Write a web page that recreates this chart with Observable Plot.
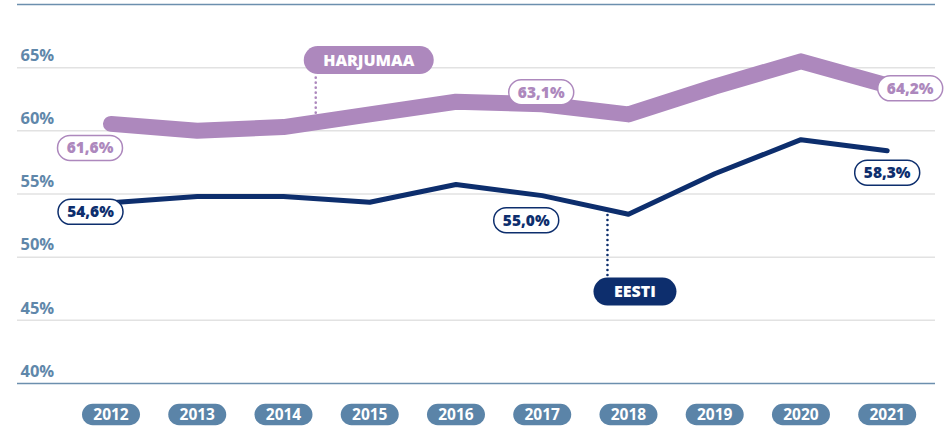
<!DOCTYPE html>
<html>
<head>
<meta charset="utf-8">
<script src="https://cdn.jsdelivr.net/npm/d3@7"></script>
<script src="https://cdn.jsdelivr.net/npm/@observablehq/plot@0.6"></script>
<style>
  html, body { margin: 0; padding: 0; background: #fff; }
  #chart svg { display: block; }
</style>
</head>
<body>
<div id="chart"></div>
<script>
// ---- data ----
const years = [2012, 2013, 2014, 2015, 2016, 2017, 2018, 2019, 2020, 2021];
const harjumaa = [60.55, 60.0, 60.3, 61.3, 62.3, 62.1, 61.3, 63.5, 65.5, 63.6];
const eesti = [54.3, 54.8, 54.8, 54.35, 55.75, 54.87, 53.4, 56.6, 59.3, 58.43];
const yTicks = [40, 45, 50, 55, 60, 65];
const seriesNames = ["HARJUMAA", "EESTI"];
const harjLabels = [
  { year: 2012, text: "61,6%" },
  { year: 2017, text: "63,1%" },
  { year: 2021, text: "64,2%" }
];
const eestiLabels = [
  { year: 2012, text: "54,6%" },
  { year: 2017, text: "55,0%" },
  { year: 2021, text: "58,3%" }
];

// ---- layout (pixel offsets of annotations, kept apart from data) ----
const harjOffsets = [[-21, 24], [-1, -12], [23, 3]];
const eestiOffsets = [[-20.5, 9], [-16, 24.5], [0, 22]];

const PURPLE = "#ad88bd";
const NAVY = "#0d2e6d";
const STEEL = "#5b84a8";
const FONT = "'Open Sans', 'Noto Sans', sans-serif";

const harjData = years.map((y, i) => ({ year: y, v: harjumaa[i] }));
const eestiData = years.map((y, i) => ({ year: y, v: eesti[i] }));

function pill(w, h) {
  const r = h / 2;
  return {
    draw(ctx) {
      ctx.moveTo(-w / 2 + r, -r);
      ctx.lineTo(w / 2 - r, -r);
      ctx.arc(w / 2 - r, 0, r, -Math.PI / 2, Math.PI / 2);
      ctx.lineTo(-w / 2 + r, r);
      ctx.arc(-w / 2 + r, 0, r, Math.PI / 2, 3 * Math.PI / 2);
      ctx.closePath();
    }
  };
}

function valueLabels(labels, data, offsets, color) {
  const marks = [];
  labels.forEach((l, i) => {
    const d = data.find(p => p.year === l.year);
    const [dx, dy] = offsets[i];
    const row = [{ year: l.year, v: d.v, text: l.text }];
    marks.push(Plot.dot(row, {
      x: "year", y: "v", dx, dy, symbol: pill(65, 25), r: 5,
      fill: "white", stroke: color, strokeWidth: 1.5
    }));
    marks.push(Plot.text(row, {
      x: "year", y: "v", dx, dy: dy + 0.5, text: "text",
      fill: color, fontSize: 15.5, fontWeight: 800, fontFamily: FONT,
      lineAnchor: "middle"
    }));
  });
  return marks;
}

const chart = Plot.plot({
  width: 948,
  height: 427,
  marginTop: 4,
  marginBottom: 44,
  marginLeft: 17,
  marginRight: 13,
  style: { background: "white", fontFamily: FONT, overflow: "visible" },
  x: { domain: [2012, 2021], range: [110.5, 886.7], axis: null },
  y: { domain: [40, 70], axis: null },
  marks: [
    Plot.ruleY(yTicks.filter(t => t !== 40), { stroke: "#e2e2e2", strokeWidth: 1.5 }),
    Plot.ruleY([40, 70], { stroke: "#6c8fae", strokeWidth: 1.5 }),
    Plot.text(yTicks, {
      y: d => d, text: d => d + "%", frameAnchor: "left", textAnchor: "start",
      dx: 3, dy: -12, fill: "#5f87aa", fontSize: 16.5, fontWeight: 700, fontFamily: FONT,
      lineAnchor: "middle"
    }),
    // year pills
    Plot.dot(years, {
      x: d => d, frameAnchor: "bottom", dy: 31, symbol: pill(58, 21.5), r: 5,
      fill: STEEL, stroke: "none"
    }),
    Plot.text(years, {
      x: d => d, frameAnchor: "bottom", dy: 31.5, text: d => String(d),
      fill: "white", fontSize: 15.5, fontWeight: 700, fontFamily: FONT, lineAnchor: "middle"
    }),
    // dotted leaders
    Plot.ruleX([2015], { dx: -54, y1: 61.4, y2: 64.5, stroke: PURPLE, strokeWidth: 2.6,
      strokeDasharray: "0,5", strokeLinecap: "round" }),
    Plot.ruleX([2018], { dx: -21, y1: 53.3, y2: 48.4, stroke: NAVY, strokeWidth: 2.6,
      strokeDasharray: "0,5", strokeLinecap: "round" }),
    // lines
    Plot.line(harjData, { x: "year", y: "v", stroke: PURPLE, strokeWidth: 16,
      strokeLinecap: "round", strokeLinejoin: "round" }),
    Plot.line(eestiData, { x: "year", y: "v", stroke: NAVY, strokeWidth: 5,
      strokeLinecap: "round", strokeLinejoin: "round" }),
    // series labels
    Plot.dot([{ year: 2015, v: 65.6, name: seriesNames[0] }], {
      x: "year", y: "v", dx: -1, symbol: pill(130, 28), r: 5, fill: PURPLE, stroke: "none"
    }),
    Plot.text([{ year: 2015, v: 65.6, name: seriesNames[0] }], {
      x: "year", y: "v", dx: -1, dy: 0.5, text: "name", fill: "white", fontSize: 16,
      fontWeight: 800, fontFamily: FONT, lineAnchor: "middle"
    }),
    Plot.dot([{ year: 2018, v: 47.28, name: seriesNames[1] }], {
      x: "year", y: "v", dx: 6.5, symbol: pill(83, 28), r: 5, fill: NAVY, stroke: "none"
    }),
    Plot.text([{ year: 2018, v: 47.28, name: seriesNames[1] }], {
      x: "year", y: "v", dx: 6.5, dy: 0.5, text: "name", fill: "white", fontSize: 16,
      fontWeight: 800, fontFamily: FONT, lineAnchor: "middle"
    }),
    ...valueLabels(harjLabels, harjData, harjOffsets, PURPLE),
    ...valueLabels(eestiLabels, eestiData, eestiOffsets, NAVY)
  ]
});

document.getElementById("chart").appendChild(chart);
</script>
</body>
</html>
